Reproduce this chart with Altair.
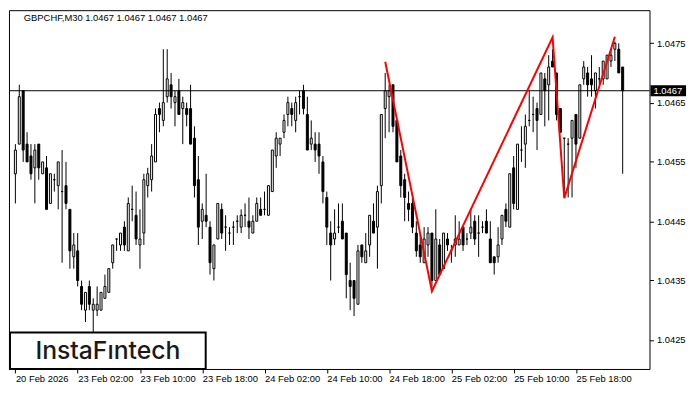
import altair as alt
import pandas as pd

# ---------------- data ----------------
opens = [1.0453,1.0458,1.0467,1.0458,1.0456,1.0454,1.0458,1.0453,1.0454,1.0448,
         1.0452,1.0451,1.0450,1.0451,1.0447,1.0439,1.0440,1.0434,1.0430,1.0434,
         1.0430,1.0430,1.0430,1.0432,1.0433,1.0438,1.0442,1.0441,1.0444,1.0440,
         1.0447,1.0446,1.0441,1.0443,1.0451,1.0452,1.0455,1.0464,1.0462,1.0466,
         1.0468,1.0465,1.0467,1.0464,1.0464,1.0464,1.0459,1.0452,1.0445,1.0446,
         1.0444,1.0437,1.0442,1.0447,1.0444,1.0443,1.0444,1.0445,1.0444,1.0446,
         1.0445,1.0443,1.0445,1.0447,1.0447,1.0446,1.0450,1.0456,1.0458,1.0460,
         1.0463,1.0464,1.0462,1.0466,1.0467,1.0463,1.0458,1.0458,1.0458,1.0455,
         1.0449,1.0443,1.0442,1.0444,1.0445,1.0443,1.0435,1.0435,1.0431,1.0441,
         1.0438,1.0441,1.0445,1.0444,1.0451,1.0464,1.0466,1.0468,1.0462,1.0456,
         1.0452,1.0448,1.0448,1.0443,1.0441,1.0438,1.0441,1.0443,1.0435,1.0441,
         1.0437,1.0442,1.0440,1.0441,1.0441,1.0444,1.0442,1.0443,1.0445,1.0443,
         1.0444,1.0445,1.0442,1.0439,1.0439,1.0442,1.0447,1.0444,1.0454,1.0447,
         1.0457,1.0458,1.0462,1.0463,1.0464,1.0463,1.0469,1.0468,1.0472,1.0470,
         1.0464,1.0459,1.0458,1.0459,1.0463,1.0459,1.0469,1.0470,1.0469,1.0467,
         1.0469,1.0469,1.0469,1.0472,1.0474,1.0474,1.0471]
highs = [1.0458,1.0468,1.0467,1.0460,1.0458,1.0458,1.0458,1.0455,1.0456,1.0453,
         1.0453,1.0455,1.0457,1.0455,1.0447,1.0443,1.0443,1.0435,1.0433,1.0435,
         1.0432,1.0434,1.0433,1.0436,1.0437,1.0441,1.0442,1.0443,1.0445,1.0449,
         1.0451,1.0450,1.0447,1.0453,1.0454,1.0458,1.0464,1.0465,1.0474,1.0474,
         1.0470,1.0467,1.0469,1.0466,1.0465,1.0468,1.0461,1.0456,1.0448,1.0453,
         1.0445,1.0441,1.0448,1.0448,1.0446,1.0444,1.0445,1.0446,1.0447,1.0448,
         1.0449,1.0446,1.0449,1.0449,1.0450,1.0451,1.0457,1.0460,1.0459,1.0463,
         1.0466,1.0465,1.0466,1.0467,1.0468,1.0466,1.0462,1.0460,1.0460,1.0456,
         1.0450,1.0445,1.0447,1.0448,1.0448,1.0443,1.0438,1.0435,1.0441,1.0441,
         1.0443,1.0446,1.0448,1.0451,1.0463,1.0470,1.0468,1.0468,1.0462,1.0457,
         1.0453,1.0450,1.0449,1.0445,1.0443,1.0444,1.0444,1.0443,1.0447,1.0442,
         1.0443,1.0443,1.0441,1.0446,1.0445,1.0444,1.0443,1.0447,1.0446,1.0446,
         1.0445,1.0447,1.0445,1.0439,1.0444,1.0446,1.0448,1.0453,1.0456,1.0458,
         1.0461,1.0463,1.0467,1.0466,1.0465,1.0470,1.0470,1.0473,1.0474,1.0470,
         1.0464,1.0459,1.0459,1.0462,1.0463,1.0468,1.0472,1.0471,1.0473,1.0470,
         1.0471,1.0472,1.0473,1.0474,1.04753,1.0475,1.0471]
lows = [1.0448,1.0458,1.0455,1.0455,1.0452,1.0448,1.0452,1.0453,1.0447,1.0448,
        1.0450,1.0447,1.0438,1.0447,1.0437,1.0437,1.0434,1.0430,1.0428,1.0430,
        1.0426,1.0429,1.0430,1.0432,1.0433,1.0437,1.0440,1.0440,1.0440,1.0440,
        1.0445,1.0441,1.0437,1.0441,1.0449,1.0450,1.0455,1.0460,1.0461,1.0465,
        1.0464,1.0461,1.0463,1.0458,1.0461,1.0458,1.0449,1.0441,1.0442,1.0444,
        1.0436,1.0435,1.0442,1.0442,1.0440,1.0441,1.0441,1.0443,1.0443,1.0444,
        1.0442,1.0443,1.0445,1.0446,1.0446,1.0446,1.0450,1.0454,1.0456,1.0459,
        1.0461,1.0461,1.0460,1.0463,1.0463,1.0457,1.0457,1.0455,1.0453,1.0448,
        1.0441,1.0435,1.0441,1.0443,1.0442,1.0432,1.0430,1.0429,1.0431,1.0438,
        1.0438,1.0439,1.0443,1.0437,1.0448,1.0459,1.0460,1.0460,1.0455,1.0449,
        1.0445,1.0445,1.0443,1.0439,1.0438,1.0438,1.0439,1.0433,1.0435,1.0436,
        1.0437,1.0440,1.0438,1.0439,1.0441,1.0440,1.0441,1.0442,1.0441,1.0439,
        1.0443,1.0443,1.0438,1.0436,1.0438,1.0441,1.0444,1.0444,1.0447,1.0447,
        1.0455,1.0454,1.0461,1.0460,1.0457,1.0463,1.0461,1.0462,1.0471,1.0462,
        1.0460,1.0449,1.0449,1.0449,1.0454,1.0459,1.0468,1.0466,1.0466,1.0464,
        1.0468,1.0468,1.0469,1.0471,1.0472,1.0470,1.0453]
closes = [1.0457,1.0466,1.0457,1.0455,1.0453,1.0457,1.0454,1.0455,1.0447,1.0453,
          1.0452,1.0455,1.0450,1.0448,1.0440,1.0441,1.0435,1.0431,1.0433,1.0431,
          1.0431,1.0431,1.0433,1.0434,1.0437,1.0441,1.0442,1.0443,1.0441,1.0448,
          1.0447,1.0442,1.0442,1.0452,1.0453,1.0456,1.0463,1.0463,1.0465,1.0469,
          1.0466,1.0466,1.0463,1.0465,1.0463,1.0458,1.0451,1.0444,1.0447,1.0445,
          1.0438,1.0441,1.0448,1.0443,1.0444,1.0443,1.0444,1.0445,1.0446,1.0446,
          1.0444,1.0445,1.0448,1.0446,1.0447,1.0451,1.0457,1.0459,1.0459,1.0462,
          1.0465,1.0463,1.0465,1.0466,1.0464,1.0457,1.0459,1.0457,1.0456,1.0450,
          1.0444,1.0441,1.0443,1.0444,1.0442,1.0436,1.0434,1.0432,1.0440,1.0439,
          1.0440,1.0446,1.0443,1.0450,1.0463,1.0467,1.0467,1.0461,1.0455,1.0451,
          1.0449,1.0447,1.0444,1.0440,1.0439,1.0442,1.0443,1.0435,1.0442,1.0436,
          1.0443,1.0441,1.0440,1.0442,1.0442,1.0441,1.0442,1.0444,1.0442,1.0443,
          1.0444,1.0443,1.0438,1.0438,1.0441,1.0446,1.0445,1.0453,1.0448,1.0458,
          1.0457,1.0461,1.0462,1.0463,1.0462,1.0470,1.0467,1.0471,1.0471,1.0463,
          1.0460,1.0459,1.0458,1.0462,1.0458,1.0468,1.0471,1.0468,1.0468,1.0470,
          1.0469,1.0472,1.0473,1.0473,1.0475,1.0470,1.0467]

tick_bars = [0, 16, 32, 48, 64, 80, 96, 112, 128, 144]
tick_labels = ["20 Feb 2026", "23 Feb 02:00", "23 Feb 10:00", "23 Feb 18:00",
               "24 Feb 02:00", "24 Feb 10:00", "24 Feb 18:00", "25 Feb 02:00",
               "25 Feb 10:00", "25 Feb 18:00"]
price_ticks = [1.0425, 1.0435, 1.0445, 1.0455, 1.0465, 1.0475]

pattern_bars = [95, 107, 138, 141, 154]
pattern_prices = [1.04719, 1.04332, 1.04760, 1.04489, 1.04761]

last_price = 1.0467
title_text = "GBPCHF,M30  1.0467 1.0467 1.0467 1.0467"
logo_text = "InstaF\u0131ntech"

# ---------------- chart ----------------
W, H = 648, 363           # 4 px per bar, 6 px per 0.0001
FONT = "Liberation Sans"
X_LO = -0.375
X_HI = X_LO + W / 4.0
Y_HI = 1.0480 + 3.5 / 60000.0
Y_LO = Y_HI - H / 60000.0

df = pd.DataFrame({
    "bar": list(range(len(opens))),
    "open": opens, "high": highs, "low": lows, "close": closes,
})
df["up"] = df["close"] >= df["open"]

xs = alt.Scale(domain=[X_LO, X_HI], zero=False, nice=False)
ys = alt.Scale(domain=[Y_LO, Y_HI], zero=False, nice=False)

label_expr = "[" + ",".join("'" + t + "'" for t in tick_labels) + "][round(datum.value/16)]"

x_axis = alt.Axis(values=tick_bars, labelExpr=label_expr, orient="bottom",
                  grid=False, domain=False, tickColor="black", tickSize=4,
                  labelAlign="left", labelPadding=1, labelFont=FONT,
                  labelFontSize=9.5, labelColor="black", labelOverlap=False,
                  labelBound=False, labelFlush=False, title=None)
y_axis = alt.Axis(values=price_ticks, format=".4f", orient="right",
                  grid=False, domain=False, tickColor="black", tickSize=4,
                  labelPadding=3, labelFont=FONT, labelFontSize=9.5,
                  labelColor="black", title=None)

base = alt.Chart(df)

wicks = base.mark_rule(color="black", strokeWidth=1).encode(
    x=alt.X("bar:Q", scale=xs, axis=x_axis),
    y=alt.Y("low:Q", scale=ys, axis=y_axis),
    y2="high:Q",
)

bodies = base.mark_bar(size=2, stroke="black", strokeWidth=1).encode(
    x=alt.X("bar:Q", scale=xs),
    y=alt.Y("open:Q", scale=ys),
    y2="close:Q",
    fill=alt.condition("datum.up", alt.value("white"), alt.value("black")),
)

hline = alt.Chart(pd.DataFrame({"p": [last_price]})).mark_rule(
    color="black", strokeWidth=1).encode(y=alt.Y("p:Q", scale=ys))

pat_df = pd.DataFrame({"bar": pattern_bars, "price": pattern_prices,
                       "seq": list(range(len(pattern_bars)))})
pattern = alt.Chart(pat_df).mark_line(color="#ff0000", strokeWidth=2).encode(
    x=alt.X("bar:Q", scale=xs),
    y=alt.Y("price:Q", scale=ys),
    order="seq:Q",
)

one = pd.DataFrame({"p": [last_price]})
price_box = alt.Chart(one).mark_rule(color="black", strokeWidth=11,
                                     strokeCap="butt", clip=False).encode(
    x=alt.value(W + 1), x2=alt.value(W + 37), y=alt.Y("p:Q", scale=ys))
price_txt = alt.Chart(one).mark_text(color="white", align="left",
                                     baseline="middle", font=FONT,
                                     fontSize=9.5, clip=False).encode(
    x=alt.value(W + 4), y=alt.Y("p:Q", scale=ys), text=alt.value("1.0467"))

title = alt.Chart(one).mark_text(align="left", baseline="middle", font=FONT,
                                 fontSize=9.5, color="black").encode(
    x=alt.value(15), y=alt.value(8), text=alt.value(title_text))

logo_box = alt.Chart(one).mark_rect(fill="white", stroke="black",
                                    strokeWidth=2).encode(
    x=alt.value(1), x2=alt.value(199), y=alt.value(H - 37), y2=alt.value(H))
logo = alt.Chart(one).mark_text(align="center", baseline="middle", font="Inter",
                                fontSize=25, fontWeight=500,
                                color="#1a1a1a").encode(
    x=alt.value(100), y=alt.value(H - 18), text=alt.value(logo_text))

chart = alt.layer(wicks, bodies, hline, pattern, price_box, price_txt,
                  title, logo_box, logo).properties(
    width=W, height=H,
    padding={"left": 0, "top": 0, "right": 0, "bottom": 0},
    background="white",
).configure_view(stroke="black", strokeWidth=1)

chart.save("out.html", embed_options={"renderer": "svg", "actions": False})
